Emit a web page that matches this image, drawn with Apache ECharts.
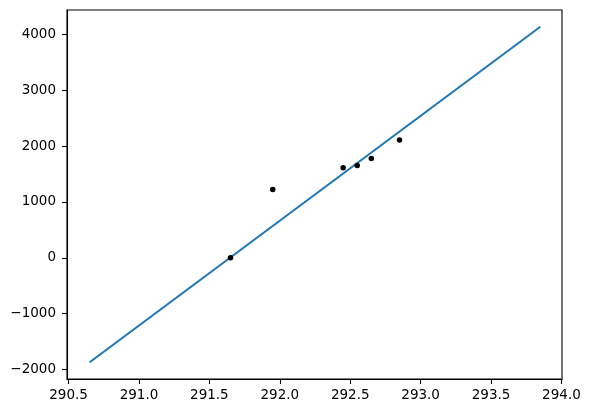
<!DOCTYPE html>
<html>
<head>
<meta charset="utf-8">
<script src="https://cdn.jsdelivr.net/npm/echarts@6/dist/echarts.min.js"></script>
<style>html,body{margin:0;padding:0;background:#fff;}#c{width:590px;height:413px;}</style>
</head>
<body>
<div id="c"></div>
<script>
// Data
const pointX = [291.65, 291.95, 292.45, 292.55, 292.65, 292.85];
const pointY = [0, 1220, 1610, 1650, 1775, 2110];
const lineX = [290.65, 293.85];
const lineY = [-1870, 4135];
const xTicks = [290.5, 291.0, 291.5, 292.0, 292.5, 293.0, 293.5, 294.0];
const yTicks = [-2000, -1000, 0, 1000, 2000, 3000, 4000];

const chart = echarts.init(document.getElementById('c'), null, {renderer: 'canvas'});
const font = 'DejaVu Sans';
const fmtY = v => (v < 0 ? '\u2212' + Math.abs(v) : String(v));
chart.setOption({
  animation: false,
  backgroundColor: '#fff',
  grid: {left: 67, right: 28, top: 10, bottom: 34, show: true, borderColor: '#000', borderWidth: 1.1, containLabel: false},
  xAxis: {
    type: 'value', min: 290.489, max: 294.004,
    axisLine: {show: true, onZero: false, lineStyle: {color: '#000', width: 1.1}},
    axisTick: {show: true, length: 5, lineStyle: {color: '#000', width: 1.1}, customValues: xTicks},
    axisLabel: {show: true, color: '#000', fontFamily: font, fontSize: 13.5, margin: 9, customValues: xTicks,
      formatter: v => Number(v).toFixed(1)},
    splitLine: {show: false}
  },
  yAxis: {
    type: 'value', min: -2170, max: 4435,
    axisLine: {show: true, onZero: false, lineStyle: {color: '#000', width: 1.1}},
    axisTick: {show: true, length: 5, lineStyle: {color: '#000', width: 1.1}, customValues: yTicks},
    axisLabel: {show: true, color: '#000', fontFamily: font, fontSize: 13.5, margin: 11, customValues: yTicks,
      formatter: v => fmtY(Math.round(v))},
    splitLine: {show: false}
  },
  series: [
    {
      type: 'line', data: lineX.map((x, i) => [x, lineY[i]]),
      showSymbol: false, symbol: 'none',
      lineStyle: {color: '#1f77b4', width: 2.1}, z: 2
    },
    {
      type: 'scatter', data: pointX.map((x, i) => [x, pointY[i]]),
      symbol: 'circle', symbolSize: 5.5,
      itemStyle: {color: '#000', opacity: 1}, z: 3
    }
  ]
});
</script>
</body>
</html>
